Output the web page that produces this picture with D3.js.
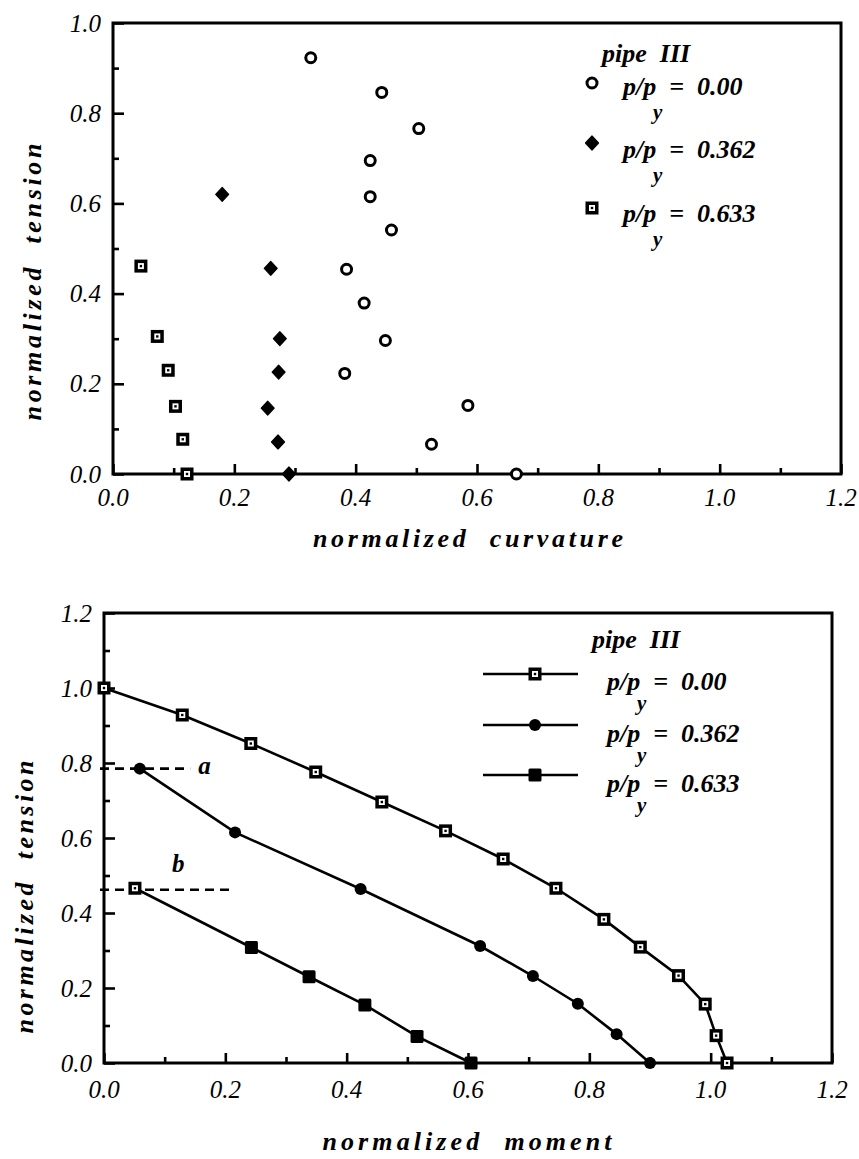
<!DOCTYPE html>
<html>
<head>
<meta charset="utf-8">
<script src="https://cdn.jsdelivr.net/npm/d3@7"></script>
<style>
  html, body { margin: 0; padding: 0; background: #fff; }
  svg text { white-space: pre; }
</style>
</head>
<body>
<svg id="chart" width="859" height="1159"></svg>
<script>
// ---- pipe III, curvature vs tension (upper panel) ----
const curv000 = [0.326, 0.443, 0.504, 0.424, 0.424, 0.459, 0.385, 0.414, 0.449, 0.382, 0.585, 0.525, 0.665];
const tens000 = [0.923, 0.846, 0.766, 0.695, 0.615, 0.541, 0.454, 0.379, 0.296, 0.223, 0.152, 0.066, 0.000];
const curv362 = [0.180, 0.260, 0.275, 0.273, 0.255, 0.272, 0.290];
const tens362 = [0.620, 0.456, 0.300, 0.226, 0.146, 0.071, 0.000];
const curv633 = [0.046, 0.073, 0.091, 0.103, 0.115, 0.122];
const tens633 = [0.461, 0.305, 0.230, 0.150, 0.077, 0.000];

// ---- pipe III, moment vs tension interaction (lower panel) ----
const mom000 = [0.000, 0.129, 0.242, 0.349, 0.458, 0.563, 0.658, 0.745, 0.824, 0.884, 0.947, 0.991, 1.009, 1.027];
const ten000 = [1.000, 0.928, 0.852, 0.776, 0.696, 0.619, 0.544, 0.466, 0.383, 0.309, 0.233, 0.157, 0.073, 0.000];
const mom362 = [0.059, 0.216, 0.423, 0.620, 0.707, 0.781, 0.845, 0.900];
const ten362 = [0.785, 0.615, 0.464, 0.312, 0.232, 0.158, 0.077, 0.000];
const mom633 = [0.051, 0.243, 0.338, 0.430, 0.516, 0.605];
const ten633 = [0.466, 0.308, 0.230, 0.155, 0.071, 0.000];

// reference lines a and b: [tension level, moment extent]
const refA = [0.785, 0.142];
const refB = [0.462, 0.214];

// tick values and legend labels
const xTicksTop = [0, 0.2, 0.4, 0.6, 0.8, 1.0, 1.2];
const yTicksTop = [0, 0.2, 0.4, 0.6, 0.8, 1.0];
const xTicksBot = [0, 0.2, 0.4, 0.6, 0.8, 1.0, 1.2];
const yTicksBot = [0, 0.2, 0.4, 0.6, 0.8, 1.0, 1.2];
const legendTitle = "pipe  III";
const legendValues = ["0.00", "0.362", "0.633"];

const svg = d3.select("#chart");
const fmt = d3.format(".1f");
const zip = (a, b) => a.map((v, i) => [v, b[i]]);

function txt(g) {
  return g.append("text").style("font-family", "'Liberation Serif'");
}
function italic(g, size) {
  return txt(g).style("font-style", "italic").style("font-size", size + "px");
}
function boldItalic(g, size) {
  return italic(g, size).style("font-weight", "bold");
}

function drawFrame(g, x, y, xMajor, yMajor, xLabelDy) {
  const [x0, x1] = x.range();
  const [y0, y1] = y.range();
  const xMinor = d3.range(0, x.domain()[1] + 1e-9, 0.1).filter(v => !xMajor.some(m => Math.abs(m - v) < 1e-6));
  const yMinor = d3.range(0, y.domain()[1] + 1e-9, 0.1).filter(v => !yMajor.some(m => Math.abs(m - v) < 1e-6));

  const ax = (axis, tr) => {
    const s = g.append("g").attr("transform", tr).call(axis);
    s.select(".domain").remove();
    s.selectAll("line").attr("stroke", "#000").attr("stroke-width", 2.6);
    s.selectAll("text").remove();
  };
  ax(d3.axisBottom(x).tickValues(xMajor).tickSize(-10), `translate(0,${y0})`);
  ax(d3.axisBottom(x).tickValues(xMinor).tickSize(-6), `translate(0,${y0})`);
  ax(d3.axisLeft(y).tickValues(yMajor).tickSize(-11), `translate(${x0},0)`);
  ax(d3.axisLeft(y).tickValues(yMinor).tickSize(-6), `translate(${x0},0)`);

  g.append("rect")
    .attr("x", x0).attr("y", y1).attr("width", x1 - x0).attr("height", y0 - y1)
    .attr("fill", "none").attr("stroke", "#000").attr("stroke-width", 3);

  xMajor.forEach(d => {
    italic(g, 25).attr("x", x(d)).attr("y", y0 + xLabelDy)
      .attr("text-anchor", "middle").text(fmt(d));
  });
  yMajor.forEach(d => {
    italic(g, 25).attr("x", x0 - 12).attr("y", y(d)).attr("dy", "0.34em")
      .attr("text-anchor", "end").text(fmt(d));
  });
}

// marker glyphs
function openCircle(sel) {
  sel.append("circle").attr("r", 5).attr("fill", "#fff").attr("stroke", "#000").attr("stroke-width", 3);
}
function diamond(sel) {
  sel.append("path").attr("d", "M0,-7L6.5,0L0,7L-6.5,0Z").attr("fill", "#000")
    .attr("stroke", "#000").attr("stroke-width", 1.2).attr("stroke-linejoin", "round");
}
function dotSquare(sel) {
  sel.append("rect").attr("x", -6.5).attr("y", -6.5).attr("width", 13).attr("height", 13).attr("fill", "#000");
  sel.append("rect").attr("x", -3).attr("y", -3).attr("width", 6).attr("height", 6).attr("fill", "#fff");
  sel.append("rect").attr("x", -1.2).attr("y", -1.2).attr("width", 2.4).attr("height", 2.4).attr("fill", "#000");
}
function dot(sel) {
  sel.append("circle").attr("r", 6).attr("fill", "#000");
}
function solidSquare(sel) {
  sel.append("rect").attr("x", -6.5).attr("y", -6.5).attr("width", 13).attr("height", 13)
    .attr("rx", 1.5).attr("fill", "#000");
}

function markers(g, pts, x, y, glyph) {
  g.selectAll(null).data(pts).join("g")
    .attr("transform", d => `translate(${x(d[0])},${y(d[1])})`)
    .each(function (d, i) { glyph(d3.select(this), i); });
}

function ppLabel(g, xPos, yBase, value, subDx, subDy) {
  boldItalic(g, 26).attr("x", xPos).attr("y", yBase).text(`p/p  =  ${value}`);
  boldItalic(g, 21).attr("x", xPos + subDx).attr("y", yBase + subDy).text("y");
}

// ================= upper panel =================
const gTop = svg.append("g");
const xTop = d3.scaleLinear([0, 1.2], [113, 841]);
const yTop = d3.scaleLinear([0, 1.0], [474, 23]);
drawFrame(gTop, xTop, yTop, xTicksTop, yTicksTop, 32);

markers(gTop, zip(curv633, tens633), xTop, yTop, dotSquare);
markers(gTop, zip(curv362, tens362), xTop, yTop, diamond);
markers(gTop, zip(curv000, tens000), xTop, yTop, openCircle);

boldItalic(gTop, 26).attr("x", 468).attr("y", 547).attr("text-anchor", "middle")
  .attr("textLength", 310).attr("lengthAdjust", "spacing")
  .text("normalized  curvature");
boldItalic(gTop, 26).attr("transform", "translate(41,282) rotate(-90)").attr("text-anchor", "middle")
  .attr("textLength", 277).attr("lengthAdjust", "spacing")
  .text("normalized  tension");

// legend (upper)
boldItalic(gTop, 26).attr("x", 602).attr("y", 62).text(legendTitle);
const topGlyphs = [openCircle, diamond, dotSquare];
const topRows = [[83, 95], [143, 158], [208, 222]];
topRows.forEach(([my, ty], i) => {
  topGlyphs[i](gTop.append("g").attr("transform", `translate(592,${my})`));
  ppLabel(gTop, 623, ty, legendValues[i], 30, 24);
});

// ================= lower panel =================
const gBot = svg.append("g");
const xBot = d3.scaleLinear([0, 1.2], [104, 832]);
const yBot = d3.scaleLinear([0, 1.2], [1063, 613]);
drawFrame(gBot, xBot, yBot, xTicksBot, yTicksBot, 35);

// dashed reference lines a and b
[refA, refB].forEach(([t, m]) => {
  gBot.append("line")
    .attr("x1", xBot(0) - 4).attr("x2", xBot(m))
    .attr("y1", yBot(t)).attr("y2", yBot(t))
    .attr("stroke", "#000").attr("stroke-width", 2.6).attr("stroke-dasharray", "9,6");
});
boldItalic(gBot, 25).attr("x", xBot(refA[1]) + 8).attr("y", yBot(refA[0]) + 5).text("a");
boldItalic(gBot, 25).attr("x", xBot(0.112)).attr("y", yBot(0.51)).text("b");

const line = d3.line().x(d => xBot(d[0])).y(d => yBot(d[1]));
const series = [
  [zip(mom000, ten000), dotSquare],
  [zip(mom362, ten362), dot],
  [zip(mom633, ten633), (s, i) => (i === 0 ? dotSquare(s) : solidSquare(s))]
];
series.forEach(([pts]) => {
  gBot.append("path").datum(pts).attr("d", line)
    .attr("fill", "none").attr("stroke", "#000").attr("stroke-width", 2.6);
});
series.forEach(([pts, glyph]) => markers(gBot, pts, xBot, yBot, glyph));

boldItalic(gBot, 26).attr("x", 467).attr("y", 1150).attr("text-anchor", "middle")
  .attr("textLength", 289).attr("lengthAdjust", "spacing")
  .text("normalized  moment");
boldItalic(gBot, 26).attr("transform", "translate(33,897) rotate(-90)").attr("text-anchor", "middle")
  .attr("textLength", 273).attr("lengthAdjust", "spacing")
  .text("normalized  tension");

// legend (lower)
boldItalic(gBot, 26).attr("x", 592).attr("y", 648).text(legendTitle);
const botGlyphs = [dotSquare, dot, solidSquare];
const botRows = [[674, 690], [725, 742], [775, 792]];
botRows.forEach(([ly, ty], i) => {
  gBot.append("line").attr("x1", 483).attr("x2", 578).attr("y1", ly).attr("y2", ly)
    .attr("stroke", "#000").attr("stroke-width", 2.6);
  botGlyphs[i](gBot.append("g").attr("transform", `translate(535,${ly})`));
  ppLabel(gBot, 607, ty, legendValues[i], 30, 20);
});
</script>
</body>
</html>
